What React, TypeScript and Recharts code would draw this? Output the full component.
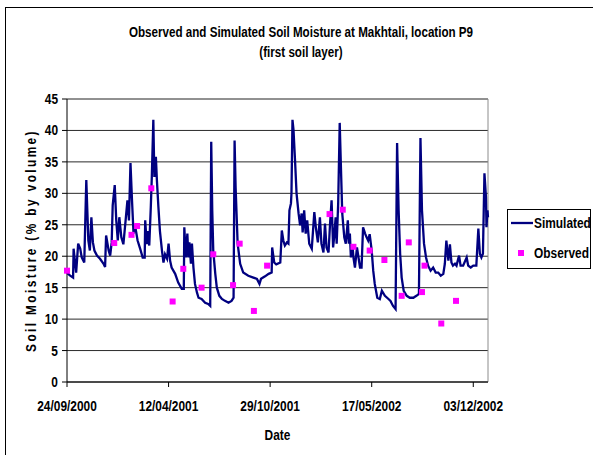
import React from 'react';
import {
  ComposedChart,
  Line,
  Scatter,
  XAxis,
  YAxis,
  CartesianGrid,
  ReferenceLine,
} from 'recharts';

// Days since 24/09/2000 for the simulated record
const simDays = [
  0, 5, 12, 13, 18, 22, 26, 29, 34, 38, 42, 45, 48, 51, 54, 59, 65, 72, 75, 77,
  82, 85, 88, 90, 94, 97, 100, 103, 107, 111, 116, 119, 122, 125, 128, 131, 134, 139, 144, 149,
  153, 154, 157, 159, 162, 165, 167, 170, 172, 175, 177, 180, 183, 187, 190, 193, 197, 200, 203, 206,
  213, 219, 226, 230, 231, 234, 237, 239, 241, 244, 246, 249, 252, 256, 259, 265, 272, 278, 282, 284,
  286, 288, 292, 295, 300, 305, 311, 318, 324, 328, 330, 332, 336, 341, 347, 357, 367, 374, 379, 382,
  390, 397, 403, 404, 408, 412, 420, 423, 426, 429, 433, 436, 438, 441, 442, 444, 446, 449, 452, 456,
  459, 462, 464, 467, 470, 473, 477, 482, 487, 490, 494, 498, 501, 505, 508, 511, 515, 518, 521, 524,
  526, 529, 531, 534, 537, 539, 542, 546, 549, 553, 555, 557, 559, 562, 564, 567, 571, 574, 577, 580,
  583, 587, 590, 593, 596, 600, 603, 606, 611, 616, 620, 626, 633, 637, 642, 647, 650, 653, 656, 659,
  663, 669, 675, 682, 688, 693, 696, 699, 703, 707, 711, 716, 721, 726, 731, 736, 741, 744, 747, 751,
  754, 757, 760, 764, 767, 772, 775, 780, 787, 790, 795, 800, 806, 810, 813, 816, 819, 822, 825, 826,
  828, 829,
];

// Simulated soil moisture (% by volume)
const simValues = [
  17.4, 17.0, 16.6, 21.2, 17.4, 22.0, 21.2, 19.8, 19.0, 32.1, 22.5, 20.9, 26.2, 22.2, 20.9, 20.1, 19.6, 18.8, 18.3, 23.3,
  20.9, 20.1, 22.2, 28.1, 31.3, 25.7, 22.5, 26.2, 23.0, 21.9, 26.2, 28.9, 25.7, 34.8, 28.9, 23.6, 24.9, 22.5, 21.2, 19.8,
  19.8, 25.7, 21.9, 24.0, 21.7, 27.8, 32.6, 41.7, 32.6, 35.8, 32.1, 27.8, 24.0, 20.9, 19.0, 20.3, 19.6, 22.0, 19.3, 18.2,
  17.2, 15.8, 14.8, 14.8, 24.6, 19.8, 23.6, 19.8, 22.2, 18.8, 22.0, 18.2, 15.6, 14.2, 13.4, 13.2, 12.6, 12.4, 12.1, 38.2,
  27.3, 20.9, 17.2, 15.0, 13.7, 13.2, 12.9, 12.6, 12.9, 13.4, 38.4, 31.0, 22.0, 18.8, 17.4, 16.9, 16.6, 16.4, 15.6, 16.4,
  16.8, 17.2, 17.4, 21.4, 19.0, 18.7, 19.0, 24.1, 22.5, 21.7, 22.2, 22.0, 27.3, 28.4, 30.0, 41.7, 40.1, 35.3, 30.0, 26.8,
  24.9, 26.8, 23.8, 27.3, 23.6, 25.7, 22.0, 21.2, 27.0, 24.6, 22.2, 26.2, 22.0, 20.6, 25.2, 21.4, 20.6, 25.2, 28.9, 21.4,
  23.0, 26.2, 22.0, 28.4, 41.2, 35.3, 26.8, 23.0, 22.0, 25.7, 22.0, 23.6, 19.8, 21.9, 19.8, 18.2, 21.4, 19.8, 18.2, 18.2,
  24.6, 23.6, 23.0, 22.5, 23.5, 20.9, 17.7, 15.6, 13.4, 13.2, 14.5, 13.7, 13.2, 12.9, 12.1, 11.6, 38.0, 27.3, 20.4, 16.6,
  14.5, 13.7, 13.4, 13.4, 13.7, 14.0, 38.8, 27.3, 22.0, 19.8, 18.5, 17.7, 18.2, 17.4, 17.4, 16.9, 17.2, 18.8, 22.5, 19.3,
  21.9, 19.0, 18.5, 18.8, 18.5, 20.1, 18.5, 18.5, 19.8, 18.5, 18.2, 18.5, 18.5, 24.4, 20.4, 19.8, 20.4, 33.2, 29.4, 24.6,
  27.3, 26.2,
];

// Field observations
const obsDays = [0, 93, 127, 138, 166, 208, 229, 265, 288, 327, 340, 368, 394, 517, 543, 564, 596, 625, 659, 673, 699, 704, 737, 766];
const obsValues = [17.7, 22.1, 23.4, 24.8, 30.8, 12.8, 18.0, 15.0, 20.3, 15.4, 22.0, 11.3, 18.5, 26.7, 27.4, 21.5, 20.9, 19.4, 13.7, 22.2, 14.3, 18.5, 9.3, 12.9];

const tickDays = [0, 200, 400, 600, 800];
const tickLabels = ['24/09/2000', '12/04/2001', '29/10/2001', '17/05/2002', '03/12/2002'];
const yTicks = [0, 5, 10, 15, 20, 25, 30, 35, 40, 45];
const lastDay = 829;

const simData = simDays.map((day, i) => ({ day, value: simValues[i] }));
const obsData = obsDays.map((day, i) => ({ day, value: obsValues[i] }));

const FONT = "'Liberation Sans', Arial, sans-serif";
const NAVY = '#000080';
const MAGENTA = '#FF00FF';
// all text is set bold 14px and squeezed horizontally
const SQUEEZE = 0.85;

const textProps = { fill: '#000', fontSize: 14, fontWeight: 'bold' as const, fontFamily: FONT };

const XTick = (props: any) => {
  const { x, y, payload } = props;
  return (
    <text transform={`translate(${x},${y}) scale(${SQUEEZE},1)`} textAnchor="middle" dy="0.71em" {...textProps}>
      {tickLabels[tickDays.indexOf(payload.value)]}
    </text>
  );
};

const YTick = (props: any) => {
  const { x, y, payload } = props;
  return (
    <text transform={`translate(${x},${y}) scale(${SQUEEZE},1)`} textAnchor="end" dy="0.36em" {...textProps}>
      {payload.value}
    </text>
  );
};

const XTitle = (props: any) => {
  const { viewBox } = props;
  const cx = viewBox.x + viewBox.width / 2;
  return (
    <text transform={`translate(${cx},440) scale(${SQUEEZE},1)`} textAnchor="middle" {...textProps}>
      Date
    </text>
  );
};

const YTitle = (props: any) => {
  const { viewBox } = props;
  const cy = viewBox.y + viewBox.height / 2;
  return (
    <text
      transform={`translate(31,${cy}) rotate(-90) scale(${SQUEEZE},1)`}
      textAnchor="middle"
      dy="0.36em"
      letterSpacing={2.8}
      {...textProps}
    >
      Soil Moisture (% by volume)
    </text>
  );
};

const legendText: React.CSSProperties = {
  position: 'absolute',
  left: 26,
  fontFamily: FONT,
  fontWeight: 'bold',
  fontSize: 14,
  lineHeight: '16px',
  transform: `scaleX(${SQUEEZE})`,
  transformOrigin: 'left center',
  whiteSpace: 'nowrap',
};

const LegendBox = () => (
  <div
    style={{
      position: 'absolute',
      left: 507,
      top: 209,
      width: 84,
      height: 60,
      border: '1px solid #000',
      boxSizing: 'border-box',
      background: '#fff',
    }}
  >
    <svg width={24} height={10} style={{ position: 'absolute', left: 3, top: 8 }}>
      <line x1={0} y1={5} x2={22} y2={5} stroke={NAVY} strokeWidth={2.3} />
    </svg>
    <span style={{ ...legendText, top: 5 }}>Simulated</span>
    <svg width={8} height={8} style={{ position: 'absolute', left: 9, top: 39 }}>
      <rect x={1} y={1} width={6} height={6} fill={MAGENTA} />
    </svg>
    <span style={{ ...legendText, top: 35 }}>Observed</span>
  </div>
);

const ObsSquare = (props: any) => {
  const { cx, cy } = props;
  if (cx == null || cy == null) return null;
  return <rect x={cx - 3} y={cy - 3} width={6} height={6} fill={MAGENTA} />;
};

export default function App() {
  return (
    <div style={{ position: 'fixed', left: 0, top: 0, width: 593, height: 455, background: '#fff', overflow: 'hidden' }}>
      <div
        style={{
          position: 'absolute',
          left: 5,
          top: 7,
          width: 600,
          height: 470,
          border: '1.5px solid #000',
          boxSizing: 'border-box',
        }}
      />
      <div
        style={{
          position: 'absolute',
          left: 301,
          top: 22,
          width: 600,
          marginLeft: -300,
          textAlign: 'center',
          fontFamily: FONT,
          fontWeight: 'bold',
          fontSize: 14,
          lineHeight: '20px',
          transform: 'scaleX(0.83)',
        }}
      >
        Observed and Simulated Soil Moisture at Makhtali, location P9
        <br />
        (first soil layer)
      </div>
      <ComposedChart
        width={593}
        height={455}
        margin={{ top: 99, right: 105, bottom: 43, left: 0 }}
        style={{ position: 'absolute', left: 0, top: 0 }}
      >
        <CartesianGrid horizontal vertical={false} stroke="#2a2a2a" />
        <XAxis
          type="number"
          dataKey="day"
          domain={[0, lastDay]}
          ticks={tickDays}
          tick={<XTick />}
          tickSize={5}
          tickMargin={14}
          height={30}
          stroke="#000"
          label={<XTitle />}
        />
        <YAxis
          type="number"
          dataKey="value"
          domain={[0, 45]}
          ticks={yTicks}
          tick={<YTick />}
          tickSize={5}
          tickMargin={4}
          width={67}
          stroke="#000"
          label={<YTitle />}
        />
        <ReferenceLine y={45} stroke="#8c8c8c" />
        <ReferenceLine x={lastDay} stroke="#8c8c8c" />
        <Line
          data={simData}
          dataKey="value"
          name="Simulated"
          type="linear"
          stroke={NAVY}
          strokeWidth={2.3}
          dot={false}
          isAnimationActive={false}
        />
        <Scatter
          data={obsData}
          dataKey="value"
          name="Observed"
          fill={MAGENTA}
          shape={<ObsSquare />}
          isAnimationActive={false}
        />
      </ComposedChart>
      <LegendBox />
    </div>
  );
}
